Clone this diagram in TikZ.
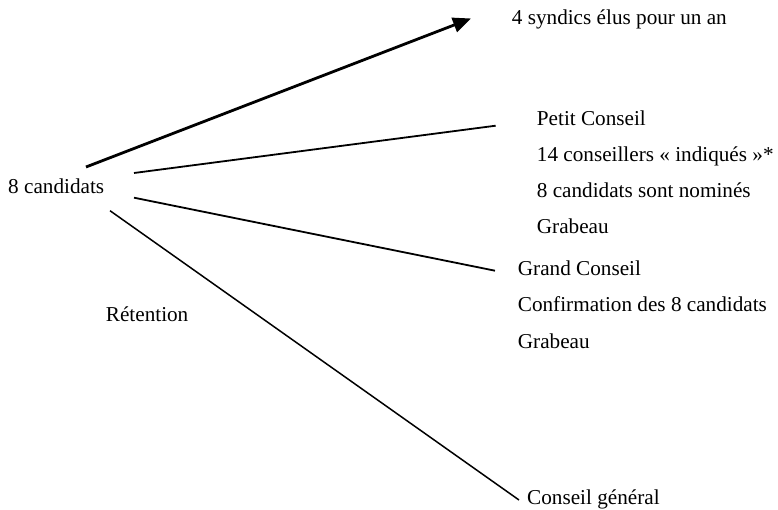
\documentclass[tikz,border=0pt]{standalone}
\usepackage{fontspec}
\setmainfont{Liberation Serif}
\usetikzlibrary{arrows.meta}
\begin{document}
\begin{tikzpicture}[x=1pt,y=-1pt,
  lbl/.style={anchor=base west,inner sep=0pt,font=\fontsize{21.2}{36}\selectfont},
  conn/.style={line width=1.8pt},
  thin conn/.style={line width=1.5pt},
  arrowconn/.style={line width=2.8pt,-{Triangle[length=18pt,width=15pt]}}]
\useasboundingbox (0,0) rectangle (778,510);
% texts
\node[lbl] (cand) at (8,194) {8 candidats};
\node[lbl] (syn) at (511.7,25) {4 syndics élus pour un an};
\node[lbl] (petit) at (536.7,126) {Petit Conseil};
\node[lbl] (c14) at (536.7,162) {14 conseillers « indiqués »*};
\node[lbl] (nom) at (536.7,198) {8 candidats sont nominés};
\node[lbl] (grab1) at (536.7,234) {Grabeau};
\node[lbl] (grand) at (517.7,276) {Grand Conseil};
\node[lbl] (conf) at (517.7,312) {Confirmation des 8 candidats};
\node[lbl] (grab2) at (517.7,348) {Grabeau};
\node[lbl] (ret) at (105.7,321) {Rétention};
\node[lbl] (gen) at (527,504) {Conseil général};
% connector end points
\coordinate (s1) at (86,167);
\coordinate (e1) at (471,18.5);
\coordinate (s2) at (134,173);
\coordinate (e2) at (495.7,125.7);
\coordinate (s3) at (134,197.7);
\coordinate (e3) at (495,270.7);
\coordinate (s4) at (110,210.7);
\coordinate (e4) at (519,500);
% connectors
\draw[arrowconn] (s1) -- (e1);
\draw[conn] (s2) -- (e2);
\draw[conn] (s3) -- (e3);
\draw[thin conn] (s4) -- (e4);
\end{tikzpicture}
\end{document}
